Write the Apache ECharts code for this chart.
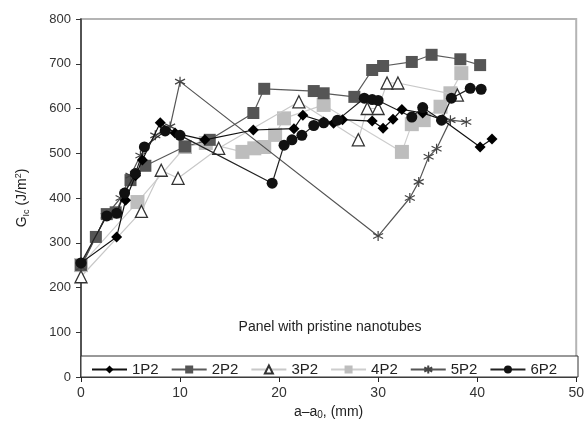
<!DOCTYPE html>
<html>
<head>
<meta charset="utf-8">
<script src="https://cdn.jsdelivr.net/npm/echarts@6/dist/echarts.min.js"></script>
<style>
html,body{margin:0;padding:0;background:#fff;}
#chart{width:587px;height:440px;}
</style>
</head>
<body>
<div id="chart"></div>
<script>
// crack length a-a0 (mm) and Gic (J/m2) for each specimen
var x1P2 = [0, 3.6, 4.5, 5.5, 6.2, 8, 9.5, 12.5, 17.4, 21.5, 22.4, 24.5, 25.5, 26.4, 29.4, 30.5, 31.5, 32.4, 34.5, 36.5, 40.3, 41.5];
var y1P2 = [255, 313, 395, 450, 485, 568, 545, 530, 552, 555, 585, 570, 567, 575, 572, 556, 576, 598, 590, 575, 514, 532];

var x2P2 = [0, 1.5, 2.6, 3.5, 5, 6.5, 10.5, 13, 17.4, 18.5, 23.5, 24.5, 27.6, 29.4, 30.5, 33.4, 35.4, 38.3, 40.3];
var y2P2 = [250, 313, 364, 368, 440, 472, 515, 530, 590, 644, 639, 634, 626, 686, 695, 704, 720, 710, 697];

var x3P2 = [0, 6.1, 8.1, 9.8, 13.9, 22, 28, 28.9, 30, 30.9, 32, 38];
var y3P2 = [224, 370, 462, 444, 511, 615, 530, 600, 600, 657, 657, 630];

var x4P2 = [0, 5.7, 10.5, 12.6, 16.3, 17.5, 18.5, 19.6, 20.5, 24.5, 32.4, 33.4, 34.6, 36.3, 37.3, 38.4];
var y4P2 = [250, 391, 514, 523, 503, 511, 514, 541, 578, 608, 503, 565, 574, 604, 634, 679];

var x5P2 = [0, 2.5, 4, 5, 6, 7.5, 9, 10, 30, 33.2, 34.1, 35.1, 35.9, 37.3, 38.9];
var y5P2 = [245, 360, 400, 450, 495, 540, 560, 660, 315, 400, 436, 492, 510, 574, 570];

var x6P2 = [0, 2.6, 3.6, 4.4, 5.5, 6.4, 8.5, 10, 19.3, 20.5, 21.3, 22.3, 23.5, 24.5, 25.9, 28.6, 29.4, 30, 33.4, 34.5, 36.4, 37.4, 39.3, 40.4];
var y6P2 = [255, 360, 366, 411, 455, 514, 550, 540, 433, 518, 530, 540, 562, 568, 574, 623, 620, 618, 581, 602, 574, 623, 645, 643];

var seriesNames = ['1P2', '2P2', '3P2', '4P2', '5P2', '6P2'];
var xTicks = [0, 10, 20, 30, 40, 50];
var yTicks = [0, 100, 200, 300, 400, 500, 600, 700, 800];

function pairs(xs, ys) {
    var out = [];
    for (var i = 0; i < xs.length; i++) {
        out.push([xs[i], ys[i]]);
    }
    return out;
}

var font = 'Liberation Sans';
var star = 'path://M5,0L5,10M0.7,2.5L9.3,7.5M0.7,7.5L9.3,2.5';

var chart = echarts.init(document.getElementById('chart'));
chart.setOption({
    animation: false,
    textStyle: { fontFamily: font },
    grid: {
        left: 81,
        right: 9,
        top: 19,
        bottom: 63,
        show: true,
        borderColor: '#b4b4b4',
        borderWidth: 2,
        backgroundColor: '#fff'
    },
    graphic: [
        {
            type: 'rect',
            shape: { x: 81, y: 356, width: 497, height: 21 },
            style: { fill: '#fff', stroke: '#333', lineWidth: 1 },
            z: 5
        },
        {
            type: 'text',
            x: 330,
            y: 327,
            style: {
                text: 'Panel with pristine nanotubes',
                font: '14px "Liberation Sans"',
                fill: '#222',
                textAlign: 'center',
                textVerticalAlign: 'middle'
            },
            z: 5
        }
    ],
    legend: {
        data: seriesNames,
        left: 86,
        top: 357,
        itemWidth: 35,
        itemHeight: 10,
        itemGap: 12,
        z: 6,
        textStyle: { fontSize: 15, color: '#222', fontFamily: font }
    },
    xAxis: {
        type: 'value',
        min: 0,
        max: 50,
        interval: 10,
        name: '{a|a–a}{b|0}{a|, (mm)}',
        nameLocation: 'middle',
        nameGap: 22,
        nameTextStyle: {
            rich: {
                a: { fontSize: 14, color: '#222', fontFamily: font },
                b: { fontSize: 10, color: '#222', fontFamily: font, padding: [6, 0, 0, 0] }
            }
        },
        axisLine: { show: true, lineStyle: { color: '#222', width: 1.5 } },
        axisTick: { show: true, length: 5, lineStyle: { color: '#222' } },
        axisLabel: { fontSize: 14, color: '#333', margin: 9, fontFamily: font,
            formatter: function (v) { return xTicks.indexOf(v) >= 0 ? String(v) : ''; } },
        splitLine: { show: false }
    },
    yAxis: {
        type: 'value',
        min: 0,
        max: 800,
        interval: 100,
        name: '{a|G}{b|Ic}{a| (J/m}{c|2}{a|)}',
        nameLocation: 'middle',
        nameGap: 50,
        nameTextStyle: {
            rich: {
                a: { fontSize: 14, color: '#222', fontFamily: font },
                b: { fontSize: 9, color: '#222', fontFamily: font, padding: [8, 0, 0, 0] },
                c: { fontSize: 9, color: '#222', fontFamily: font, padding: [0, 0, 7, 0] }
            }
        },
        axisLine: { show: true, lineStyle: { color: '#333', width: 1.5 } },
        axisTick: { show: true, length: 5, lineStyle: { color: '#333' } },
        axisLabel: { fontSize: 13, color: '#333', margin: 10, fontFamily: font,
            formatter: function (v) { return yTicks.indexOf(v) >= 0 ? String(v) : ''; } },
        splitLine: { show: false }
    },
    series: [
        {
            name: '1P2', type: 'line', data: pairs(x1P2, y1P2),
            symbol: 'diamond', symbolSize: 11,
            itemStyle: { color: '#000' },
            lineStyle: { color: '#111', width: 1.2 }, z: 4
        },
        {
            name: '2P2', type: 'line', data: pairs(x2P2, y2P2),
            symbol: 'rect', symbolSize: 12,
            itemStyle: { color: '#555' },
            lineStyle: { color: '#5a5a5a', width: 1.2 }, z: 3
        },
        {
            name: '3P2', type: 'line', data: pairs(x3P2, y3P2),
            symbol: 'triangle', symbolSize: 12,
            itemStyle: { color: '#fff', borderColor: '#333', borderWidth: 1.3 },
            lineStyle: { color: '#c8c8c8', width: 1.2 }, z: 3
        },
        {
            name: '4P2', type: 'line', data: pairs(x4P2, y4P2),
            symbol: 'rect', symbolSize: 14,
            itemStyle: { color: '#bdbdbd' },
            lineStyle: { color: '#cdcdcd', width: 1.2 }, z: 2
        },
        {
            name: '5P2', type: 'line', data: pairs(x5P2, y5P2),
            symbol: star, symbolSize: 10,
            itemStyle: { color: 'rgba(0,0,0,0)', borderColor: '#444', borderWidth: 1.2 },
            lineStyle: { color: '#555', width: 1.2 }, z: 3
        },
        {
            name: '6P2', type: 'line', data: pairs(x6P2, y6P2),
            symbol: 'circle', symbolSize: 11,
            itemStyle: { color: '#111' },
            lineStyle: { color: '#222', width: 1.2 }, z: 4
        }
    ]
});
</script>
</body>
</html>
